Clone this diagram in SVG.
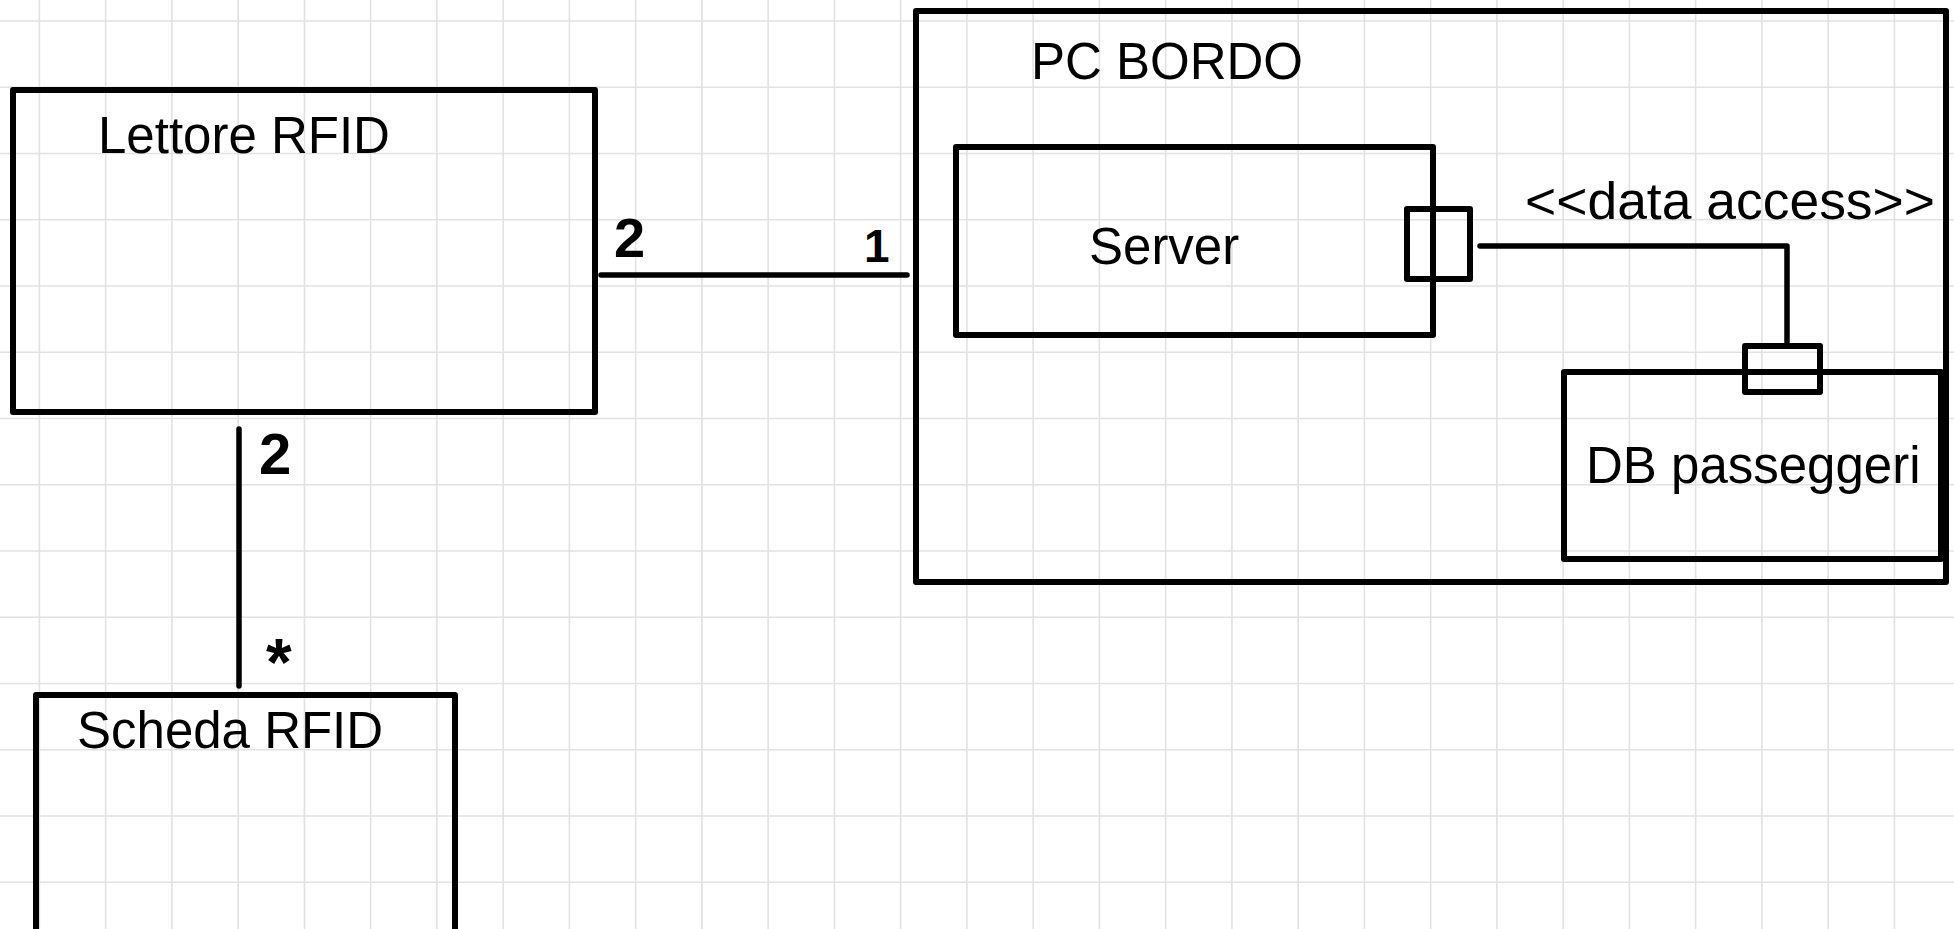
<svg xmlns="http://www.w3.org/2000/svg" width="1954" height="929" viewBox="0 0 1954 929">
<style>
.grid{stroke:#e2e2e2;stroke-width:1.6;fill:none}
.box{fill:none;stroke:#000;stroke-width:6;stroke-linejoin:round}
.conn{fill:none;stroke:#000;stroke-width:5.5;stroke-linecap:round;stroke-linejoin:round}
.lbl{font-family:"Liberation Sans",Arial,Helvetica,sans-serif;font-size:51px;fill:#000}
.mult{font-family:"Liberation Sans",Arial,sans-serif;font-weight:bold;fill:#000}
</style>
<rect x="0" y="0" width="1954" height="929" fill="#fff"/>
<path class="grid" d="M39.4 0V929M105.65 0V929M171.9 0V929M238.15 0V929M304.4 0V929M370.65 0V929M436.9 0V929M503.15 0V929M569.4 0V929M635.65 0V929M701.9 0V929M768.15 0V929M834.4 0V929M900.65 0V929M966.9 0V929M1033.15 0V929M1099.4 0V929M1165.65 0V929M1231.9 0V929M1298.15 0V929M1364.4 0V929M1430.65 0V929M1496.9 0V929M1563.15 0V929M1629.4 0V929M1695.65 0V929M1761.9 0V929M1828.15 0V929M1894.4 0V929M0 21H1954M0 87.25H1954M0 153.5H1954M0 219.75H1954M0 286H1954M0 352.25H1954M0 418.5H1954M0 484.75H1954M0 551H1954M0 617.25H1954M0 683.5H1954M0 749.75H1954M0 816H1954M0 882.25H1954"/>
<g id="lettore-rfid">
<rect class="box" x="13" y="90" width="582" height="322"/>
<text class="lbl" x="98" y="153">Lettore RFID</text>
</g>
<g id="scheda-rfid">
<rect class="box" x="36" y="695" width="419" height="280"/>
<text class="lbl" x="77" y="748">Scheda RFID</text>
</g>
<g id="pc-bordo">
<rect class="box" x="916" y="11" width="1030" height="571"/>
<text class="lbl" x="1031" y="79">PC BORDO</text>
</g>
<g id="server">
<rect class="box" x="956" y="147" width="477" height="188"/>
<text class="lbl" x="1089" y="264">Server</text>
<rect class="box" x="1407" y="209" width="63" height="70"/>
</g>
<g id="db-passeggeri">
<rect class="box" x="1564" y="372" width="377" height="187"/>
<text class="lbl" x="1586" y="483">DB passeggeri</text>
<rect class="box" x="1745" y="346" width="75" height="46"/>
</g>
<g id="connectors">
<line class="conn" x1="601" y1="275" x2="907" y2="275"/>
<text class="mult" x="614" y="257" font-size="56">2</text>
<text class="mult" x="864" y="262" font-size="46">1</text>
<line class="conn" x1="239" y1="429" x2="239" y2="686"/>
<text class="mult" x="259" y="474" font-size="58">2</text>
<text class="mult" x="266" y="685" font-size="66">*</text>
<polyline class="conn" points="1480,246 1787,246 1787,346"/>
<text class="lbl" x="1525" y="219" textLength="410" lengthAdjust="spacingAndGlyphs">&lt;&lt;data access&gt;&gt;</text>
</g>
</svg>
